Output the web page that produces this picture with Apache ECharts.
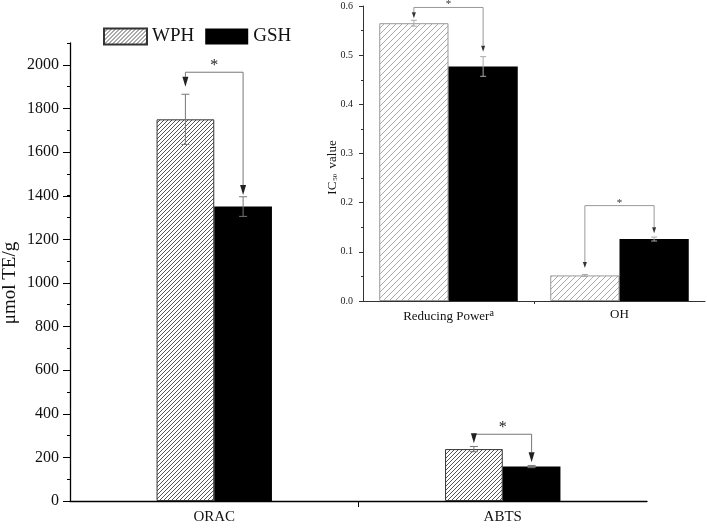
<!DOCTYPE html>
<html>
<head>
<meta charset="utf-8">
<script src="https://cdn.jsdelivr.net/npm/echarts@6/dist/echarts.min.js"></script>
<style>html,body{margin:0;background:#fff}#chart{width:707px;height:528px}</style>
</head>
<body>
<div id="chart"></div>
<script>
const FONT = '"Liberation Serif", "DejaVu Serif", serif';

// main panel (umol TE/g)
const mainCategories = ['ORAC', 'ABTS'];
const mainWph = [1750, 238];
const mainWphErr = [115, 12];
const mainGsh = [1350, 158];
const mainGshErr = [45, 5];
// significance brackets: bracket level, arrow tip above WPH, arrow tip above GSH
const mainBracket = [1966, 306];
const mainTipWph = [1899, 265];
const mainTipGsh = [1403, 178];

// inset panel (IC50)
const insetCategories = ['Reducing Power', 'OH'];
const insetWph = [0.565, 0.052];
const insetWphErr = [0.006, 0.002];
const insetGsh = [0.477, 0.126];
const insetGshErr = [0.02, 0.004];
const insetBracket = [0.597, 0.194];
const insetTipWph = [0.575, 0.067];
const insetTipGsh = [0.507, 0.138];

// diagonal hatch fill
function hatch(size, color, lw) {
  const c = document.createElement('canvas');
  c.width = c.height = size;
  const g = c.getContext('2d');
  g.strokeStyle = color;
  g.lineWidth = lw;
  g.beginPath();
  g.moveTo(0, size); g.lineTo(size, 0);
  g.moveTo(-1, 1); g.lineTo(1, -1);
  g.moveTo(size - 1, size + 1); g.lineTo(size + 1, size - 1);
  g.stroke();
  return { image: c, repeat: 'repeat' };
}

function errorBars(offsetFrac, color, cap) {
  return function (params, api) {
    const band = api.size([1, 0])[0];
    const i = api.value(0), v = api.value(1), e = api.value(2);
    const top = api.coord([i, v + e]);
    const bot = api.coord([i, v - e]);
    const x = top[0] + band * offsetFrac;
    const st = { stroke: color, lineWidth: 1 };
    return { type: 'group', children: [
      { type: 'line', shape: { x1: x, y1: top[1], x2: x, y2: bot[1] }, style: st },
      { type: 'line', shape: { x1: x - cap, y1: top[1], x2: x + cap, y2: top[1] }, style: st },
      { type: 'line', shape: { x1: x - cap, y1: bot[1], x2: x + cap, y2: bot[1] }, style: st }
    ] };
  };
}

function brackets(offsetFrac, o) {
  return function (params, api) {
    const band = api.size([1, 0])[0];
    const i = api.value(0);
    const c = api.coord([i, api.value(1)]);
    const x1 = c[0] - band * offsetFrac, x2 = c[0] + band * offsetFrac;
    const yb = c[1];
    const t1 = api.coord([i, api.value(2)])[1];
    const t2 = api.coord([i, api.value(3)])[1];
    const w = o.w, h = o.h;
    return { type: 'group', children: [
      { type: 'polyline', shape: { points: [[x1, t1 - h], [x1, yb], [x2, yb], [x2, t2 - h]] },
        style: { stroke: o.line, lineWidth: 1, fill: null } },
      { type: 'polygon', shape: { points: [[x1 - w / 2, t1 - h], [x1 + w / 2, t1 - h], [x1, t1]] },
        style: { fill: o.head } },
      { type: 'polygon', shape: { points: [[x2 - w / 2, t2 - h], [x2 + w / 2, t2 - h], [x2, t2]] },
        style: { fill: o.head } },
      { type: 'text', x: (x1 + x2) / 2, y: yb - o.starGap,
        style: { text: '*', font: o.starSize + 'px ' + FONT, fill: o.head, align: 'center', verticalAlign: 'middle' } }
    ] };
  };
}

const chart = echarts.init(document.getElementById('chart'));

const axisLine = { show: true, onZero: false, lineStyle: { color: '#000', width: 1.3 } };

chart.setOption({
  animation: false,
  backgroundColor: '#fff',
  textStyle: { fontFamily: FONT },
  legend: {
    data: ['WPH', 'GSH'],
    left: 103, top: 27, padding: 0,
    itemWidth: 43, itemHeight: 16, itemGap: 11,
    icon: 'rect',
    textStyle: { fontSize: 19, fontFamily: FONT, color: '#111' }
  },
  grid: [
    { left: 70, right: 60, top: 43, bottom: 27, outerBoundsMode: 'none', containLabel: false },
    { left: 70, right: 60, top: 65, bottom: 27, outerBoundsMode: 'none', containLabel: false },
    { left: 363, right: 2, top: 6, bottom: 227, outerBoundsMode: 'none', containLabel: false }
  ],
  xAxis: [
    { type: 'category', gridIndex: 0, position: 'bottom', data: mainCategories, axisLine: axisLine,
      axisTick: { alignWithLabel: true, length: 6, lineStyle: { color: '#000' } },
      axisLabel: { fontSize: 15, color: '#111', margin: 9, fontFamily: FONT } },
    { type: 'value', gridIndex: 0, position: 'bottom', min: 0, max: 2, interval: 2,
      axisLine: { show: false, onZero: false },
      axisTick: { show: false }, axisLabel: { show: false }, splitLine: { show: false },
      minorTick: { show: true, splitNumber: 2, length: 6, lineStyle: { color: '#000' } } },
    { type: 'category', gridIndex: 1, position: 'bottom', data: mainCategories, show: false },
    { type: 'category', gridIndex: 2, position: 'bottom', data: insetCategories,
      axisLine: { show: true, onZero: false, lineStyle: { color: '#333', width: 1 } },
      axisTick: { alignWithLabel: true, length: 4, lineStyle: { color: '#333' } },
      axisLabel: { fontSize: 13, color: '#111', margin: 7, fontFamily: FONT,
        formatter: v => v === 'Reducing Power' ? v + '{sup|a}' : v,
        rich: { sup: { fontSize: 10, verticalAlign: 'top', padding: [0, 0, 8, 0], fontFamily: FONT, color: '#111' } } } },
    { type: 'value', gridIndex: 2, position: 'bottom', min: 0, max: 2, interval: 2,
      axisLine: { show: false, onZero: false },
      axisTick: { show: false }, axisLabel: { show: false }, splitLine: { show: false },
      minorTick: { show: true, splitNumber: 2, length: 3, lineStyle: { color: '#333' } } }
  ],
  yAxis: [
    { type: 'value', gridIndex: 0, position: 'left', min: 0, max: 2100, interval: 100, axisLine: axisLine,
      axisTick: { show: true, length: 3, lineStyle: { color: '#000' } },
      axisLabel: { show: false }, splitLine: { show: false } },
    { type: 'value', gridIndex: 1, position: 'left', min: 0, max: 2000, interval: 200,
      axisLine: { show: false, onZero: false },
      axisTick: { show: true, length: 7, lineStyle: { color: '#000' } },
      axisLabel: { fontSize: 16, color: '#111', margin: 11, fontFamily: FONT, formatter: v => String(v) },
      splitLine: { show: false },
      name: 'μmol TE/g', nameLocation: 'middle', nameGap: 50, nameMoveOverlap: false,
      nameTextStyle: { fontSize: 19, color: '#111', fontFamily: FONT } },
    { type: 'value', gridIndex: 2, position: 'left', min: 0, max: 0.6, interval: 0.1,
      axisLine: { show: true, onZero: false, lineStyle: { color: '#333', width: 1 } },
      axisTick: { show: true, length: 4, lineStyle: { color: '#333' } },
      minorTick: { show: true, splitNumber: 2, length: 2, lineStyle: { color: '#333' } },
      axisLabel: { fontSize: 10, color: '#222', margin: 10, fontFamily: FONT, formatter: v => v.toFixed(1) },
      splitLine: { show: false },
      name: 'IC{s|50} value', nameLocation: 'middle', nameGap: 24, nameMoveOverlap: false,
      nameTextStyle: { fontSize: 13, color: '#111', fontFamily: FONT, padding: [0, 28, 0, 0],
        rich: { s: { fontSize: 7, verticalAlign: 'bottom', padding: [6, 2, 0, 1], fontFamily: FONT, color: '#111' } } } }
  ],
  series: [
    { name: 'WPH', type: 'bar', xAxisIndex: 0, yAxisIndex: 0, data: mainWph,
      barGap: '0%', barCategoryGap: '60%',
      itemStyle: { color: hatch(4, '#555', 1), borderColor: '#333', borderWidth: 1 } },
    { name: 'GSH', type: 'bar', xAxisIndex: 0, yAxisIndex: 0, data: mainGsh,
      itemStyle: { color: '#000' } },
    { name: 'WPH', type: 'bar', xAxisIndex: 3, yAxisIndex: 2, data: insetWph,
      barGap: '0%', barCategoryGap: '19%',
      itemStyle: { color: hatch(6, '#aaa', 1), borderColor: '#999', borderWidth: 1 } },
    { name: 'GSH', type: 'bar', xAxisIndex: 3, yAxisIndex: 2, data: insetGsh,
      itemStyle: { color: '#000' } },
    { name: 'errWphMain', type: 'custom', xAxisIndex: 0, yAxisIndex: 0, z: 5,
      renderItem: errorBars(-0.1, '#777', 4),
      data: mainCategories.map((c, i) => [i, mainWph[i], mainWphErr[i]]) },
    { name: 'errGshMain', type: 'custom', xAxisIndex: 0, yAxisIndex: 0, z: 5,
      renderItem: errorBars(0.1, '#777', 4),
      data: mainCategories.map((c, i) => [i, mainGsh[i], mainGshErr[i]]) },
    { name: 'errWphInset', type: 'custom', xAxisIndex: 3, yAxisIndex: 2, z: 5,
      renderItem: errorBars(-0.2025, '#aaa', 3),
      data: insetCategories.map((c, i) => [i, insetWph[i], insetWphErr[i]]) },
    { name: 'errGshInset', type: 'custom', xAxisIndex: 3, yAxisIndex: 2, z: 5,
      renderItem: errorBars(0.2025, '#aaa', 3),
      data: insetCategories.map((c, i) => [i, insetGsh[i], insetGshErr[i]]) },
    { name: 'sigMain', type: 'custom', xAxisIndex: 0, yAxisIndex: 0, z: 6,
      renderItem: brackets(0.1, { w: 6, h: 10, line: '#777', head: '#222', starGap: 6, starSize: 16 }),
      data: mainCategories.map((c, i) => [i, mainBracket[i], mainTipWph[i], mainTipGsh[i]]) },
    { name: 'sigInset', type: 'custom', xAxisIndex: 3, yAxisIndex: 2, z: 6,
      renderItem: brackets(0.2025, { w: 4, h: 6, line: '#999', head: '#333', starGap: 3, starSize: 11 }),
      data: insetCategories.map((c, i) => [i, insetBracket[i], insetTipWph[i], insetTipGsh[i]]) }
  ]
});
</script>
</body>
</html>
